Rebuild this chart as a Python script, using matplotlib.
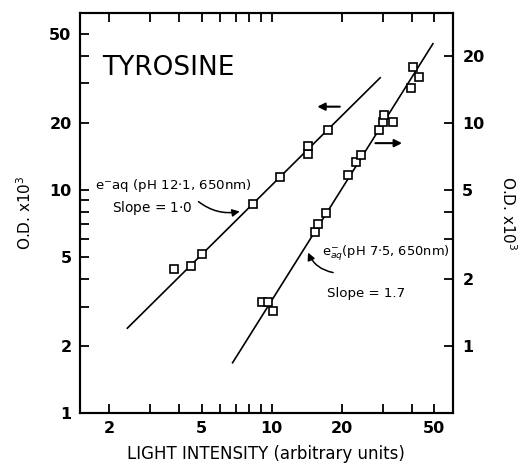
import numpy as np
import matplotlib
matplotlib.use('Agg')
import matplotlib.pyplot as plt
from matplotlib.ticker import FixedLocator, NullFormatter

plt.rcParams['font.family'] = ['DejaVu Sans']

# e-aq at pH 12.1 (left axis)
left_x = [3.8, 4.5, 5.0, 8.3, 10.9, 14.3, 14.3, 17.4]
left_y = [4.4, 4.55, 5.15, 8.65, 11.4, 14.5, 15.7, 18.6]
left_fit_x = [2.4, 29.3]
left_fit_y = [2.4, 31.8]

# e-aq at pH 7.5 (right axis)
right_x = [9.1, 9.7, 10.1, 15.3, 15.8, 17.1, 21.3, 23.0, 24.2,
           28.9, 30.1, 30.4, 33.2, 39.7, 40.5, 43.1]
right_y = [1.57, 1.57, 1.44, 3.23, 3.50, 3.92, 5.83, 6.65, 7.14,
           9.31, 10.1, 10.8, 10.1, 14.3, 17.7, 16.0]
right_fit_x = [6.8, 49.4]
right_fit_y = [0.84, 22.6]

x_major = [2, 5, 10, 20, 50]
x_minor = [3, 4, 6, 7, 8, 9, 30, 40]
yl_major = [1, 2, 5, 10, 20, 50]
yl_minor = [3, 4, 6, 7, 8, 9, 30, 40]
yr_major = [1, 2, 5, 10, 20]
yr_minor = [3, 4]

fig = plt.figure(figsize=(5.22, 4.67), dpi=100)
ax = fig.add_axes([0.153, 0.1156, 0.714, 0.8564])
ax.set_xscale('log')
ax.set_yscale('log')
ax.set_xlim(1.5, 60)
ax.set_ylim(1, 62)

ax2 = ax.twinx()
ax2.set_yscale('log')
ax2.set_ylim(0.5, 31)

ax.plot(left_fit_x, left_fit_y, color='black', lw=1.2)
ax.plot(left_x, left_y, 's', mfc='white', mec='black', ms=5.5, mew=1.2)
ax2.plot(right_fit_x, right_fit_y, color='black', lw=1.2)
ax2.plot(right_x, right_y, 's', mfc='white', mec='black', ms=5.5, mew=1.2)

for a in (ax, ax2):
    for s in a.spines.values():
        s.set_linewidth(1.5)

ax.xaxis.set_major_locator(FixedLocator(x_major))
ax.xaxis.set_minor_locator(FixedLocator(x_minor))
ax.set_xticklabels([str(v) for v in x_major])
ax.xaxis.set_minor_formatter(NullFormatter())
ax.yaxis.set_major_locator(FixedLocator(yl_major))
ax.yaxis.set_minor_locator(FixedLocator(yl_minor))
ax.set_yticklabels([str(v) for v in yl_major])
ax.yaxis.set_minor_formatter(NullFormatter())
ax2.yaxis.set_major_locator(FixedLocator(yr_major))
ax2.yaxis.set_minor_locator(FixedLocator(yr_minor))
ax2.set_yticklabels([str(v) for v in yr_major])
ax2.yaxis.set_minor_formatter(NullFormatter())

ax.tick_params(axis='x', which='both', direction='in', top=True, length=6.5, width=1.3)
ax.tick_params(axis='y', which='both', direction='in', right=False, length=6.5, width=1.3)
ax.tick_params(axis='both', which='major', labelsize=11.5, pad=6)
ax2.tick_params(axis='y', which='both', direction='in', length=6.5, width=1.3)
ax2.tick_params(axis='y', which='major', labelsize=11.5, pad=7)
for lab in ax.get_xticklabels() + ax.get_yticklabels() + ax2.get_yticklabels():
    lab.set_fontweight('bold')

ax.set_xlabel('LIGHT INTENSITY (arbitrary units)', fontsize=12, labelpad=6)
ax.set_ylabel('O.D. x10$^3$', fontsize=11, labelpad=11)
ax2.set_ylabel('O.D. x10$^3$', fontsize=11, rotation=270, labelpad=24)

ax.text(0.059, 0.8625, 'TYROSINE', transform=ax.transAxes, fontsize=19,
        va='center', ha='left')

ax.text(1.74, 10.5, r'e$^{-}$aq (pH 12$\cdot$1, 650nm)', fontsize=9.6,
        va='center', ha='left')
ax.text(2.07, 8.3, r'Slope = 1$\cdot$0', fontsize=9.8, va='center', ha='left')
ax.annotate('', xy=(7.5, 8.05), xytext=(4.75, 9.02),
            arrowprops=dict(arrowstyle='-|>', color='black', lw=1.1,
                            mutation_scale=11,
                            connectionstyle='arc3,rad=0.25'))

ax.text(16.4, 5.2, r'e$^{-}_{aq}$(pH 7$\cdot$5, 650nm)', fontsize=9.4,
        va='center', ha='left')
ax.text(17.3, 3.45, 'Slope = 1.7', fontsize=9.6, va='center', ha='left')
ax.annotate('', xy=(14.2, 5.38), xytext=(18.9, 4.24),
            arrowprops=dict(arrowstyle='-|>', color='black', lw=1.1,
                            mutation_scale=11,
                            connectionstyle='arc3,rad=-0.3'))

# axis pointers
ax.annotate('', xy=(15.3, 23.6), xytext=(20.2, 23.6),
            arrowprops=dict(arrowstyle='-|>', color='black', lw=1.5,
                            mutation_scale=11))
ax.annotate('', xy=(37.4, 16.2), xytext=(27.2, 16.2),
            arrowprops=dict(arrowstyle='-|>', color='black', lw=1.5,
                            mutation_scale=11))

fig.savefig('out.png', dpi=100)
